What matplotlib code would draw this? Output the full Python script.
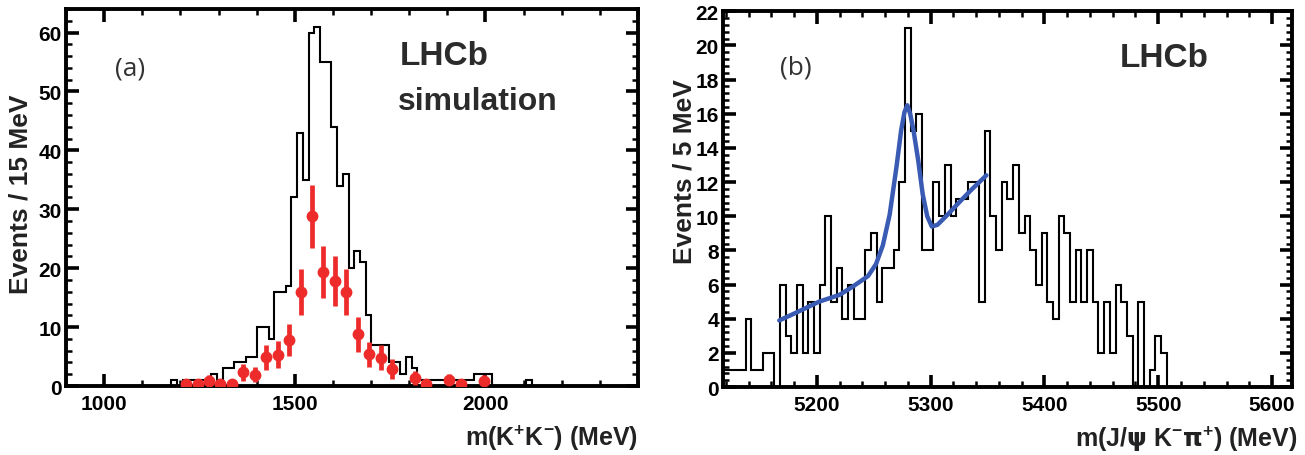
import numpy as np
import matplotlib.pyplot as plt
from matplotlib.ticker import MultipleLocator

plt.rcParams['font.family'] = ['Liberation Sans', 'DejaVu Sans']
plt.rcParams['font.weight'] = 'bold'

# ---- panel (a): simulated m(K+K-), 15 MeV bins ----
kk_first_edge = 1161
kk_bin = 15
kk_counts = [0, 1, 0, 1, 1, 1, 1, 1, 2, 1,
             3, 3, 4, 4, 5, 5, 10, 10, 8, 16,
             16, 17, 32, 43, 35, 60, 61, 55, 55, 44,
             34, 36, 20, 23, 21, 12, 7, 7, 7, 4,
             4, 2, 5, 3, 1, 1, 1, 1, 1, 1,
             1, 1, 1, 1, 2, 2, 2, 0, 0, 0,
             0, 0, 0, 1, 0]

# red points (30 MeV spacing)
kk_pt_mass = [1215, 1245, 1275, 1305, 1335, 1365, 1395, 1425, 1455, 1485,
              1515, 1545, 1575, 1605, 1635, 1665, 1695, 1725, 1755, 1815,
              1845, 1905, 1935, 1995]
kk_pt_val = [0.3, 0.3, 0.9, 0.3, 0.3, 2.3, 1.9, 4.9, 5.3, 7.8,
             15.9, 28.8, 19.4, 17.8, 15.9, 8.8, 5.4, 4.8, 2.9, 1.4,
             0.3, 1.0, 0.4, 0.9]
kk_pt_err = [0.5, 0.5, 0.9, 0.5, 0.5, 1.4, 1.3, 2.1, 2.3, 2.7,
             3.9, 5.4, 4.4, 4.2, 3.9, 2.95, 2.1, 2.1, 1.7, 1.2,
             0.5, 1.0, 0.5, 0.9]

# ---- panel (b): m(J/psi K- pi+), 5 MeV bins ----
jpsi_first_edge = 5117.5
jpsi_bin = 5
jpsi_counts = [1, 1, 1, 1, 4, 1, 1, 2, 2, 0,
               6, 3, 2, 6, 2, 5, 2, 6, 10, 5,
               7, 4, 6, 4, 4, 8, 9, 5, 7, 7,
               8, 12, 21, 15, 16, 8, 8, 12, 10, 13,
               10, 11, 11, 12, 12, 5, 15, 10, 8, 12,
               11, 13, 9, 10, 8, 6, 9, 5, 4, 10,
               9, 5, 8, 5, 8, 5, 2, 5, 2, 6,
               5, 3, 0, 5, 0, 1, 3, 2, 0, 0]

fit_mass = [5167, 5180, 5202, 5220, 5232, 5245, 5252, 5258, 5264, 5270,
            5274, 5277, 5279.5, 5282, 5285, 5289, 5293, 5297, 5301, 5306,
            5315, 5322, 5335, 5349]
fit_val = [3.9, 4.3, 5.0, 5.4, 5.9, 6.5, 7.2, 8.3, 10.1, 12.9,
           15.0, 16.1, 16.5, 16.0, 15.0, 13.3, 11.3, 10.0, 9.4, 9.5,
           10.1, 10.6, 11.5, 12.4]


def style_axes(ax, xmaj, xmin, ymaj, ymin):
    for s in ax.spines.values():
        s.set_linewidth(2.8)
    ax.xaxis.set_major_locator(MultipleLocator(xmaj))
    ax.xaxis.set_minor_locator(MultipleLocator(xmin))
    ax.yaxis.set_major_locator(MultipleLocator(ymaj))
    ax.yaxis.set_minor_locator(MultipleLocator(ymin))
    ax.tick_params(which='both', direction='in', top=True, right=True,
                   labelsize=15)
    ax.tick_params(which='major', length=9, width=2.6)
    ax.tick_params(which='minor', length=4.5, width=1.8)
    ax.tick_params(axis='x', which='major', pad=6)
    ax.tick_params(axis='y', which='major', pad=3)


fig = plt.figure(figsize=(13.05, 4.56), dpi=100)

# (a)
ax1 = fig.add_axes([0.0506, 0.1513, 0.4383, 0.8268])
kk_edges = kk_first_edge + kk_bin * np.arange(len(kk_counts) + 1)
ax1.stairs(kk_counts, kk_edges, color='black', lw=1.5, baseline=0)
ax1.errorbar(kk_pt_mass, kk_pt_val, yerr=kk_pt_err, fmt='o', color='#ee2b2b',
             ms=7.5, elinewidth=3.4, capsize=0, zorder=3)
ax1.set_xlim(900, 2400)
ax1.set_ylim(0, 64)
style_axes(ax1, 500, 100, 10, 2)
ax1.set_ylabel('Events / 15 MeV', fontsize=19, fontweight='bold',
               color='#222222', va='center')
ax1.yaxis.set_label_coords(-0.080, 0.51)
ax1.set_xlabel(r'm(K$^{\mathregular{+}}$K$^{\mathregular{-}}$) (MeV)',
               fontsize=18, fontweight='bold', ha='right', va='center',
               color='#222222')
ax1.xaxis.set_label_coords(1.0, -0.135)
ax1.text(0.086, 0.843, '(a)', transform=ax1.transAxes, fontsize=19,
         fontweight='normal', family='Open Sans', color='#333333', va='center')
ax1.text(0.584, 0.854, 'LHCb', transform=ax1.transAxes, fontsize=24,
         fontweight='bold', color='#2b2b2b', va='baseline')
ax1.text(0.580, 0.735, 'simulation', transform=ax1.transAxes, fontsize=23,
         fontweight='bold', color='#2b2b2b', va='baseline')

# (b)
ax2 = fig.add_axes([0.554, 0.149, 0.436, 0.824])
jpsi_edges = jpsi_first_edge + jpsi_bin * np.arange(len(jpsi_counts) + 1)
ax2.stairs(jpsi_counts, jpsi_edges, color='black', lw=1.5, baseline=0)
ax2.plot(fit_mass, fit_val, color='#3a5bb3', lw=3.2, solid_capstyle='round')
ax2.set_xlim(5117.5, 5617.5)
ax2.set_ylim(0, 22)
style_axes(ax2, 100, 20, 2, 0.4)
ax2.set_ylabel('Events / 5 MeV', fontsize=19, fontweight='bold',
               color='#222222', va='center')
ax2.yaxis.set_label_coords(-0.068, 0.575)
ax2.set_xlabel(r'm(J/$\mathrm{\psi}$ K$^{\mathregular{-}}$$\mathrm{\pi}^{\mathregular{+}}$) (MeV)',
               fontsize=18, fontweight='bold', ha='right', va='center',
               color='#222222')
ax2.xaxis.set_label_coords(1.01, -0.136)
ax2.text(0.10, 0.851, '(b)', transform=ax2.transAxes, fontsize=19,
         fontweight='normal', family='Open Sans', color='#333333', va='center')
ax2.text(0.698, 0.854, 'LHCb', transform=ax2.transAxes, fontsize=24,
         fontweight='bold', color='#2b2b2b', va='baseline')

fig.savefig('out.png', dpi=100)
